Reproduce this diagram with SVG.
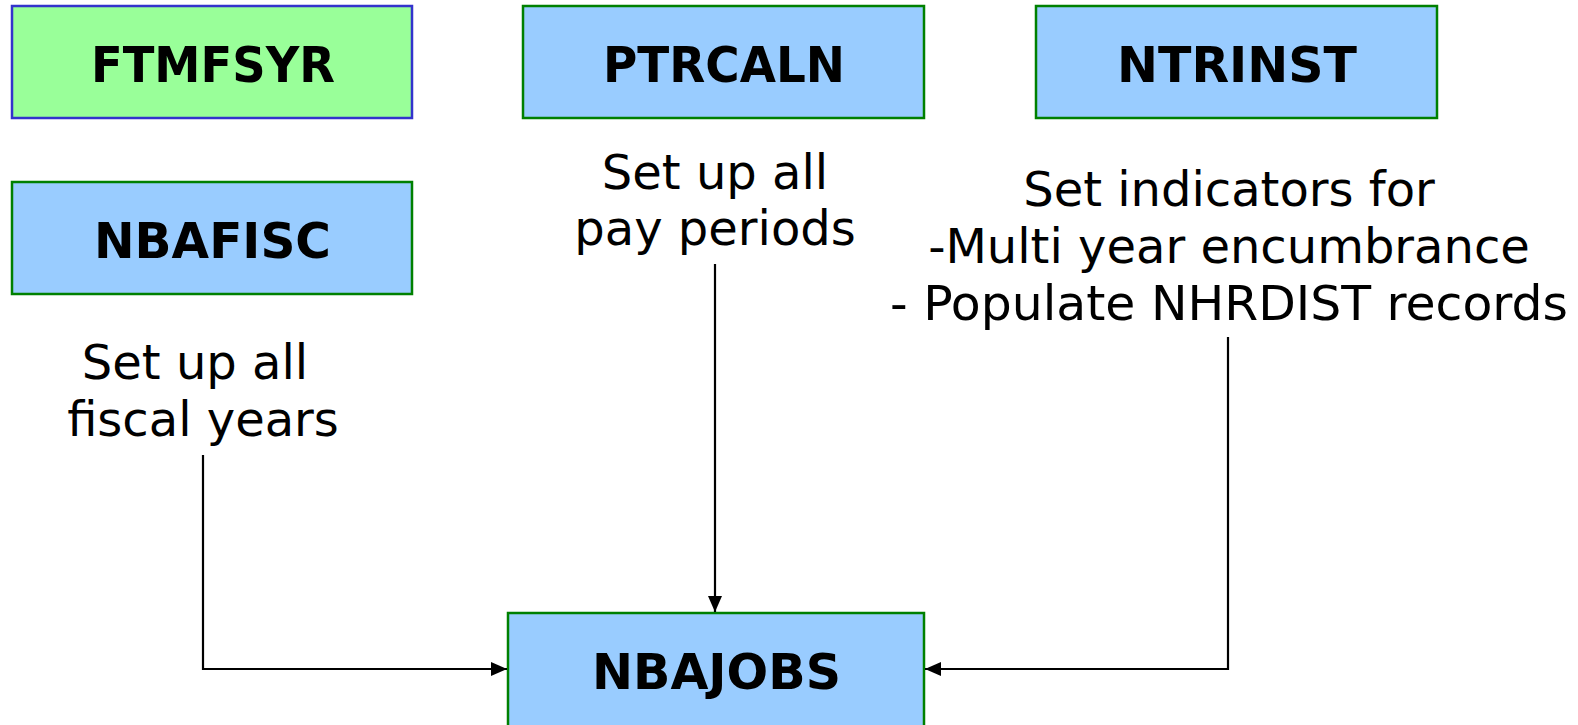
<svg xmlns="http://www.w3.org/2000/svg" width="1578" height="725" viewBox="0 0 1578 725">
<style>
.box{fill:#99ccff;stroke:#008000;stroke-width:2.5}
.green{fill:#99ff99;stroke:#3333cc;stroke-width:2.5}
.lbl{font-family:"DejaVu Sans",Verdana,sans-serif;font-weight:bold;font-size:50px;fill:#000;text-anchor:middle}
.txt{font-family:"DejaVu Sans",Verdana,sans-serif;font-size:48px;fill:#000;text-anchor:middle}
.conn{fill:none;stroke:#000;stroke-width:2.2}
</style>
<defs>
<marker id="arr" markerWidth="16" markerHeight="14" refX="16" refY="7" orient="auto" markerUnits="userSpaceOnUse">
<path d="M0,0 L16,7 L0,14 Z" fill="#000"/>
</marker>
</defs>
<rect width="1578" height="725" fill="#fff"/>
<g id="FTMFSYR">
<rect class="green" x="12" y="6" width="400" height="112"/>
<text class="lbl" x="213" y="82" textLength="244" lengthAdjust="spacingAndGlyphs">FTMFSYR</text>
</g>
<g id="PTRCALN">
<rect class="box" x="523" y="6" width="401" height="112"/>
<text class="lbl" x="724" y="82" textLength="242" lengthAdjust="spacingAndGlyphs">PTRCALN</text>
</g>
<g id="NTRINST">
<rect class="box" x="1036" y="6" width="401" height="112"/>
<text class="lbl" x="1237" y="82" textLength="240" lengthAdjust="spacingAndGlyphs">NTRINST</text>
</g>
<g id="NBAFISC">
<rect class="box" x="12" y="182" width="400" height="112"/>
<text class="lbl" x="212.5" y="258" textLength="237" lengthAdjust="spacingAndGlyphs">NBAFISC</text>
</g>
<g id="NBAJOBS">
<rect class="box" x="508" y="613" width="416" height="116"/>
<text class="lbl" x="716.5" y="689" textLength="249" lengthAdjust="spacingAndGlyphs">NBAJOBS</text>
</g>
<g id="text-fiscal">
<text class="txt" x="195" y="379">Set up all</text>
<text class="txt" x="203" y="436">fiscal years</text>
</g>
<g id="text-pay">
<text class="txt" x="715" y="189">Set up all</text>
<text class="txt" x="715" y="245">pay periods</text>
</g>
<g id="text-ntrinst">
<text class="txt" x="1229" y="206">Set indicators for</text>
<text class="txt" x="1229" y="263">-Multi year encumbrance</text>
<text class="txt" x="1229" y="320" textLength="678" lengthAdjust="spacingAndGlyphs">- Populate NHRDIST records</text>
</g>
<g id="connectors">
<path class="conn" d="M203,455 V669 H507" marker-end="url(#arr)"/>
<path class="conn" d="M715,264 V612" marker-end="url(#arr)"/>
<path class="conn" d="M1228,337 V669 H925" marker-end="url(#arr)"/>
</g>
</svg>
